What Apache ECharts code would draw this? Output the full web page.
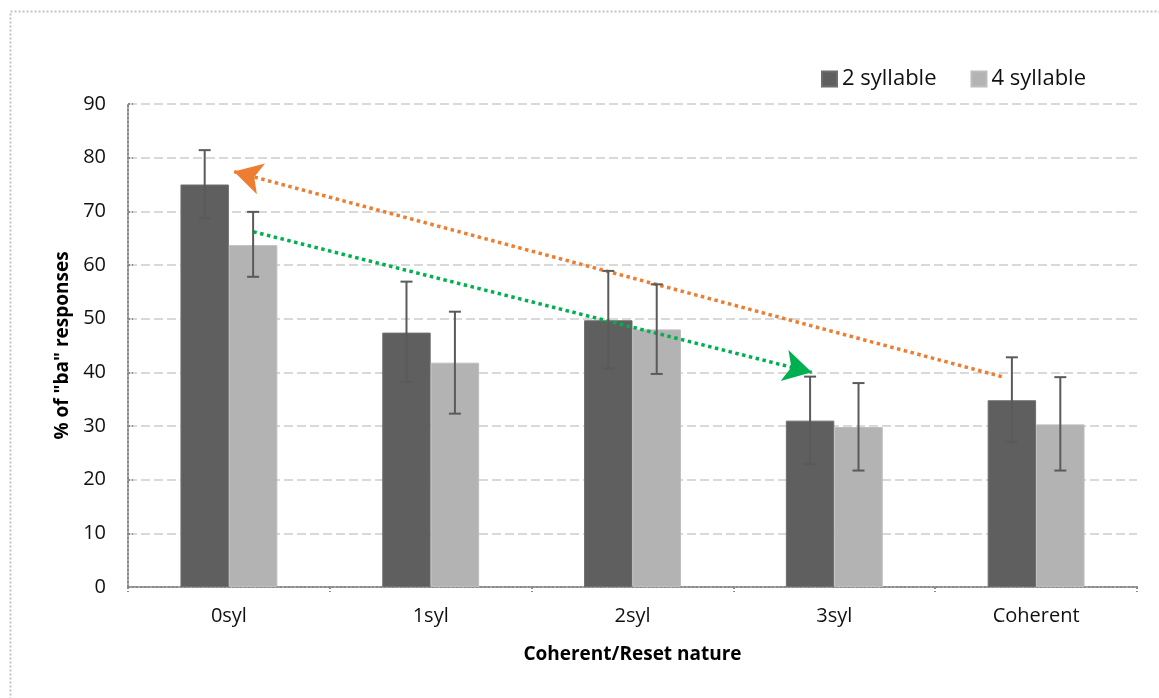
<!DOCTYPE html>
<html>
<head>
<meta charset="utf-8">
<script src="https://cdn.jsdelivr.net/npm/echarts@6/dist/echarts.min.js"></script>
<style>
    html, body { margin: 0; padding: 0; background: #fff; }
    #chart { width: 1159px; height: 698px; }
</style>
</head>
<body>
<div id="chart"></div>
<script>
    // data
    let categories = ['0syl', '1syl', '2syl', '3syl', 'Coherent'];
    let twoSyllable = [75.0, 47.4, 49.7, 31.0, 34.8];
    let fourSyllable = [63.7, 41.8, 48.0, 29.8, 30.3];
    // error bars: [low, high]
    let twoSyllableErr = [[68.7, 81.4], [38.2, 56.9], [40.7, 58.9], [22.9, 39.2], [27.0, 42.8]];
    let fourSyllableErr = [[57.8, 69.9], [32.3, 51.3], [39.7, 56.4], [21.7, 38.0], [21.7, 39.1]];
    // annotation arrows, in [category position, value] (tail -> head)
    let orangeArrow = [[4.33, 39.2], [0.525, 77.4]];
    let greenArrow = [[0.621, 66.2], [3.388, 40.0]];

    let font = '"Open Sans", sans-serif';
    let barPct = 0.24;

    let errorSeries = function(name, errs, side){
        return {
            name: name + ' err',
            type: 'custom',
            z: 5,
            silent: true,
            data: errs.map((e, i) => [i, e[0], e[1]]),
            renderItem: function(params, api){
                let i = api.value(0);
                let lo = api.coord([i, api.value(1)]);
                let hi = api.coord([i, api.value(2)]);
                let band = api.size([1, 0])[0];
                let x = lo[0] + side * band * barPct / 2;
                let cap = 6;
                let style = { stroke: '#5a5a5a', lineWidth: 2 };
                return {
                    type: 'group',
                    children: [
                        { type: 'line', shape: { x1: x, y1: lo[1], x2: x, y2: hi[1] }, style: style },
                        { type: 'line', shape: { x1: x - cap, y1: hi[1], x2: x + cap, y2: hi[1] }, style: style },
                        { type: 'line', shape: { x1: x - cap, y1: lo[1], x2: x + cap, y2: lo[1] }, style: style }
                    ]
                };
            }
        };
    };

    let arrowLine = function(pts, color){
        return {
            type: 'line',
            xAxisIndex: 1,
            data: [],
            silent: true,
            z: 10,
            markLine: {
                silent: true,
                symbol: ['none', 'arrow'],
                symbolSize: [24, 28],
                label: { show: false },
                lineStyle: { color: color, width: 3.5, type: [3.5, 3.5], opacity: 1 },
                emphasis: { disabled: true },
                data: [[{ coord: pts[0] }, { coord: pts[1] }]]
            }
        };
    };

    let chart = echarts.init(document.getElementById('chart'));
    chart.setOption({
        animation: false,
        textStyle: { fontFamily: font },
        graphic: [{
            type: 'rect',
            shape: { x: 10.5, y: 11.5, width: 1300, height: 900 },
            style: { fill: 'none', stroke: '#c4c4c4', lineWidth: 2, lineDash: [2, 2] },
            silent: true
        }],
        legend: {
            data: ['2 syllable', '4 syllable'],
            left: 816,
            top: 63,
            icon: 'rect',
            itemWidth: 15,
            itemHeight: 15,
            itemGap: 34,
            textStyle: { fontSize: 22, color: '#111', fontFamily: font }
        },
        grid: { left: 128, right: 22, top: 104, bottom: 111 },
        xAxis: [{
            type: 'category',
            data: categories,
            name: 'Coherent/Reset nature',
            nameLocation: 'middle',
            nameGap: 58,
            nameTextStyle: { fontSize: 19, fontWeight: 'bold', color: '#000' },
            axisLine: { lineStyle: { color: '#8a8a8a', width: 2, type: 'dotted' } },
            axisTick: { show: true, length: 5, lineStyle: { color: '#8a8a8a', width: 2, type: 'dotted' } },
            axisLabel: { fontSize: 20, color: '#111', margin: 19 },
            splitLine: { show: false }
        }, {
            type: 'value',
            min: 0,
            max: 5,
            show: false
        }],
        yAxis: {
            type: 'value',
            min: 0,
            max: 90,
            interval: 10,
            name: '% of "ba" responses',
            nameLocation: 'middle',
            nameGap: 55,
            nameTextStyle: { fontSize: 19, fontWeight: 'bold', color: '#000' },
            axisLine: { show: true, lineStyle: { color: '#8a8a8a', width: 2, type: 'dotted' } },
            axisTick: { show: true, inside: true, length: 5, lineStyle: { color: '#8a8a8a', width: 2, type: 'dotted' } },
            axisLabel: { fontSize: 20, color: '#111', margin: 22 },
            splitLine: { lineStyle: { color: '#d9d9d9', width: 2, type: [9, 4] } }
        },
        series: [
            {
                name: '2 syllable',
                type: 'bar',
                data: twoSyllable,
                barWidth: (barPct * 100) + '%',
                barGap: '0%',
                itemStyle: { color: '#5f5f5f', borderColor: '#6e6e6e', borderWidth: 1 }
            },
            {
                name: '4 syllable',
                type: 'bar',
                data: fourSyllable,
                barWidth: (barPct * 100) + '%',
                barGap: '0%',
                itemStyle: { color: '#b3b3b3', borderColor: '#bdbdbd', borderWidth: 1 }
            },
            errorSeries('2 syllable', twoSyllableErr, -1),
            errorSeries('4 syllable', fourSyllableErr, 1),
            arrowLine(orangeArrow, '#ed7d31'),
            arrowLine(greenArrow, '#00b050')
        ]
    });
</script>
</body>
</html>
